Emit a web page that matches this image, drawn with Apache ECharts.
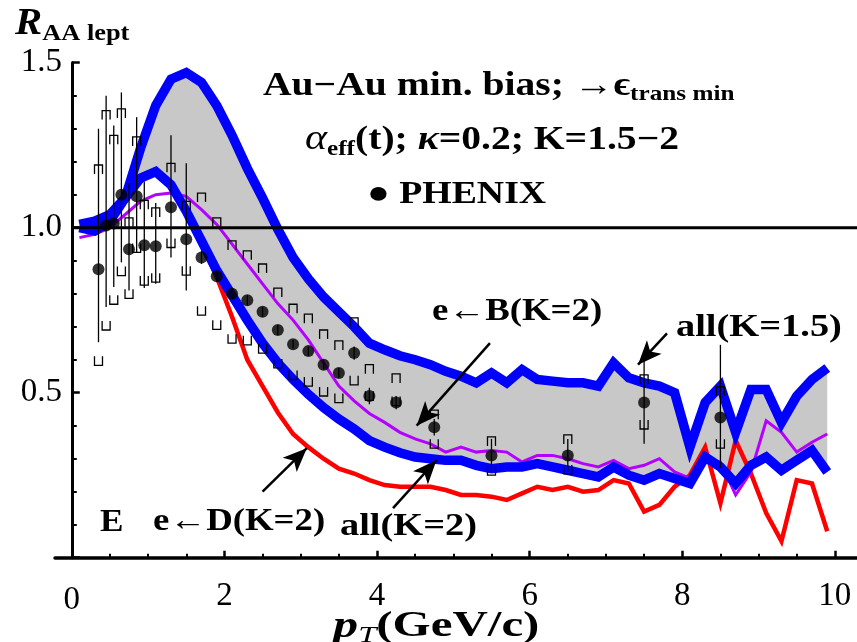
<!DOCTYPE html>
<html>
<head>
<meta charset="utf-8">
<script src="https://cdn.jsdelivr.net/npm/echarts@6/dist/echarts.min.js"></script>
<style>
html, body { margin: 0; padding: 0; background: #ffffff; }
#chart { width: 857px; height: 642px; }
</style>
</head>
<body>
<div id="chart"></div>
<script>
// Transverse-momentum grid of the model curves (GeV/c)
const pT = [0.1, 0.3, 0.5, 0.7, 0.9, 1.1, 1.3, 1.5, 1.7, 1.9,
            2.1, 2.3, 2.5, 2.7, 2.9, 3.1, 3.3, 3.5, 3.7, 3.9,
            4.1, 4.3, 4.5, 4.7, 4.9, 5.1, 5.3, 5.5, 5.7, 5.9,
            6.1, 6.3, 6.5, 6.7, 6.9, 7.1, 7.3, 7.5, 7.7, 7.9,
            8.1, 8.3, 8.5, 8.7, 8.9, 9.1, 9.3, 9.5, 9.7, 9.9];

// all leptons, K = 1.5 (upper edge of the band)
const allK15 = [1.01, 1.02, 1.04, 1.09, 1.24, 1.37, 1.45, 1.47, 1.44, 1.37,
                1.28, 1.18, 1.09, 0.995, 0.91, 0.845, 0.79, 0.745, 0.70, 0.65,
                0.63, 0.612, 0.60, 0.585, 0.565, 0.55, 0.53, 0.56, 0.53, 0.57,
                0.54, 0.535, 0.53, 0.53, 0.52, 0.59, 0.545, 0.53, 0.52, 0.50,
                0.335, 0.47, 0.52, 0.38, 0.51, 0.51, 0.41, 0.49, 0.54, 0.575];

// all leptons, K = 2 (lower edge of the band)
const allK2 = [1.00, 0.99, 1.02, 1.09, 1.15, 1.17, 1.13, 1.05, 0.96, 0.87,
               0.795, 0.72, 0.65, 0.59, 0.54, 0.495, 0.455, 0.42, 0.39, 0.355,
               0.335, 0.318, 0.305, 0.30, 0.295, 0.295, 0.28, 0.27, 0.275, 0.275,
               0.285, 0.275, 0.265, 0.255, 0.245, 0.275, 0.25, 0.235, 0.255, 0.24,
               0.225, 0.305, 0.275, 0.225, 0.28, 0.305, 0.265, 0.295, 0.325, 0.26];

// electrons from B decays, K = 2
const eFromB = [0.97, 0.98, 1.00, 1.04, 1.08, 1.10, 1.105, 1.095, 1.055, 1.01,
                0.95, 0.89, 0.83, 0.77, 0.72, 0.66, 0.59, 0.52, 0.475, 0.437,
                0.41, 0.38, 0.36, 0.345, 0.32, 0.335, 0.32, 0.325, 0.32, 0.29,
                0.31, 0.31, 0.30, 0.285, 0.275, 0.295, 0.27, 0.28, 0.30, 0.26,
                0.24, 0.29, 0.29, 0.19, 0.26, 0.415, 0.38, 0.32, 0.35, 0.375];

// electrons from D decays, K = 2 (runs under the K = 2 total below ~1.8 GeV/c)
const eFromD = [0.995, 0.985, 1.015, 1.085, 1.145, 1.165, 1.125, 1.045, 0.955, 0.85,
                0.73, 0.60, 0.52, 0.44, 0.375, 0.335, 0.30, 0.27, 0.255, 0.235,
                0.22, 0.215, 0.215, 0.215, 0.205, 0.19, 0.19, 0.185, 0.175, 0.195,
                0.215, 0.205, 0.215, 0.20, 0.205, 0.235, 0.225, 0.14, 0.16, 0.215,
                0.25, 0.335, 0.165, 0.355, 0.255, 0.135, 0.05, 0.235, 0.225, 0.08];

// PHENIX non-photonic electrons, Au-Au minimum bias
const phenixPt = [0.35, 0.45, 0.55, 0.65, 0.75, 0.85, 0.95, 1.1, 1.3, 1.5,
                  1.7, 1.9, 2.1, 2.3, 2.5, 2.7, 2.9, 3.1, 3.3, 3.5,
                  3.7, 3.9, 4.25, 4.75, 5.5, 6.5, 7.5, 8.5];
const phenixR = [0.874, 1.007, 1.013, 1.10, 0.935, 1.095, 0.947, 0.944, 1.062, 0.965,
                 0.91, 0.853, 0.80, 0.78, 0.745, 0.69, 0.647, 0.626, 0.585, 0.56,
                 0.62, 0.49, 0.47, 0.395, 0.31, 0.31, 0.47, 0.425];
const statHi = [1.30, 1.40, 1.31, 1.41, 1.135, 1.335, 1.14, 1.075, 1.28, 1.195,
                0.93, 0.87, 0.815, 0.795, 0.76, 0.705, 0.66, 0.64, 0.60, 0.575,
                0.64, 0.515, 0.49, 0.42, 0.36, 0.36, 0.60, 0.645];
const statLo = [0.653, 0.76, 0.82, 0.895, 0.81, 0.925, 0.817, 0.83, 0.91, 0.81,
                0.89, 0.836, 0.785, 0.765, 0.73, 0.675, 0.634, 0.612, 0.57, 0.545,
                0.60, 0.465, 0.45, 0.37, 0.26, 0.26, 0.345, 0.272];
const sysHi = [1.19, 1.355, 1.28, 1.36, 1.03, 1.275, 1.083, 1.06, 1.195, 1.08,
               1.105, 1.03, 0.96, 0.93, 0.89, 0.817, 0.768, 0.738, 0.69, 0.657,
               0.727, 0.585, 0.557, 0.447, 0.366, 0.372, 0.554, 0.518];
const sysLo = [0.583, 0.69, 0.768, 0.855, 0.786, 0.925, 0.826, 0.835, 0.94, 0.856,
               0.735, 0.692, 0.65, 0.645, 0.62, 0.575, 0.54, 0.52, 0.49, 0.47,
               0.524, 0.477, 0.461, 0.332, 0.25, 0.254, 0.39, 0.332];

// Axis ticks
const xMajorTicks = [0, 2, 4, 6, 8, 10];
const xMinorTicks = [0.5, 1, 1.5, 2.5, 3, 3.5, 4.5, 5, 5.5, 6.5, 7, 7.5, 8.5, 9, 9.5];
const refLevel = 1.0;

// Annotation arrows: [from pT, from R, to pT, to R]
const arrows = [
  [5.48, 0.65, 4.52, 0.40],   // e<-B(K=2)
  [7.80, 0.68, 7.42, 0.585],  // all(K=1.5)
  [2.50, 0.20, 3.08, 0.332],  // e<-D(K=2)
  [4.21, 0.15, 4.78, 0.296]   // all(K=2)
];

const SERIF = '"Liberation Serif", "DejaVu Serif", serif';
const measureCtx = document.createElement('canvas').getContext('2d');

// Lay out a run of differently styled text pieces left to right,
// stretched horizontally by sx
function textRun(x, y, sx, parts) {
  const out = [];
  let cx = x;
  for (const [t, font, dy] of parts) {
    measureCtx.font = font;
    out.push({
      type: 'text', x: cx, y: y + (dy || 0), z: 100, scaleX: sx,
      style: { text: t, font: font, fill: '#000', align: 'left', verticalAlign: 'middle' }
    });
    cx += measureCtx.measureText(t).width * sx;
  }
  return out;
}

const B33 = 'bold 33px ' + SERIF;
const B32 = 'bold 32px ' + SERIF;
const B21 = 'bold 21px ' + SERIF;

const graphics = [].concat(
  textRun(15, 24, 1.1, [['R', 'bold italic 37px ' + SERIF, 0], ['AA lept', 'bold 24px ' + SERIF, 10]]),
  textRun(263, 86, 1.2, [['Au\u2212Au min. bias; \u2192\u03F5', B33, 0], ['trans min', B21, 9]]),
  textRun(305, 140, 1.2, [['\u03B1', 'italic 35px ' + SERIF, 0], ['eff', B21, 10], ['(t); ', B33, 0],
                          ['\u03BA', 'bold italic 33px ' + SERIF, 0], ['=0.2; K=1.5\u22122', B33, 0]]),
  textRun(367, 195, 1.18, [['\u25CF PHENIX', B32, 0]]),
  textRun(432, 312, 1.15, [['e\u2190B(K=2)', B32, 0]]),
  textRun(676, 328, 1.2, [['all(K=1.5)', B32, 0]]),
  textRun(153, 522, 1.15, [['e\u2190D(K=2)', B32, 0]]),
  textRun(340, 527, 1.2, [['all(K=2)', B32, 0]]),
  textRun(100, 523, 1.1, [['E', B32, 0]]),
  textRun(333, 627, 1.36, [['p', 'bold italic 37px ' + SERIF, 0], ['T', 'italic 24px ' + SERIF, 9], ['(GeV/c)', 'bold 36px ' + SERIF, 0]])
);

const chart = echarts.init(document.getElementById('chart'), null, { renderer: 'canvas' });

const lineSeries = (name, values, color, width, z) => ({
  name: name,
  type: 'line',
  data: pT.map((x, i) => [x, values[i]]),
  symbol: 'none',
  silent: true,
  z: z,
  lineStyle: { color: color, width: width, join: 'miter', cap: 'butt' }
});

chart.setOption({
  animation: false,
  backgroundColor: '#ffffff',
  grid: { left: 55, right: 0, top: 62.7, bottom: 84.3, containLabel: false },
  xAxis: [
    {
      type: 'value', min: -0.22, max: 10.29,
      axisLine: { onZero: false, lineStyle: { color: '#000', width: 3.5 } },
      axisTick: { inside: true, length: 7, lineStyle: { color: '#000', width: 2.5 }, customValues: xMajorTicks },
      axisLabel: {
        customValues: xMajorTicks, margin: 22, color: '#000',
        fontFamily: SERIF, fontSize: 33,
        formatter: v => (v === 0 ? '{z|0}' : String(v)),
        rich: { z: { fontFamily: SERIF, fontSize: 33, color: '#000', padding: [4, 0, 0, 0] } }
      },
      splitLine: { show: false }
    },
    {
      type: 'value', min: -0.22, max: 10.29, position: 'bottom', offset: 0,
      axisLine: { show: false },
      axisTick: { inside: true, length: 4, lineStyle: { color: '#000', width: 2 }, customValues: xMinorTicks },
      axisLabel: { show: false },
      splitLine: { show: false }
    }
  ],
  yAxis: {
    type: 'value', min: 0, max: 1.5, interval: 0.5,
    axisLine: { show: true, onZero: true, lineStyle: { color: '#000', width: 3 } },
    axisTick: { inside: true, length: 8, lineStyle: { color: '#000', width: 2.5 } },
    minorTick: { show: true, splitNumber: 5, length: 5, lineStyle: { color: '#000', width: 2 } },
    axisLabel: {
      margin: -7, color: '#000', fontFamily: SERIF, fontSize: 33,
      formatter: v => (v === 0 ? '' : v.toFixed(1))
    },
    splitLine: { show: false }
  },
  graphic: graphics,
  series: [
    {
      name: 'band',
      type: 'custom',
      silent: true,
      z: 1,
      data: [[pT[0], allK15[0]]],
      renderItem: (params, api) => {
        const upper = pT.map((x, i) => api.coord([x, allK15[i]]));
        const lower = pT.map((x, i) => api.coord([x, allK2[i]])).reverse();
        return { type: 'polygon', shape: { points: upper.concat(lower) }, style: { fill: '#c8c8c8' } };
      }
    },
    lineSeries('e<-D(K=2)', eFromD, '#ff0000', 4.5, 2),
    lineSeries('e<-B(K=2)', eFromB, '#b400ff', 3, 3),
    lineSeries('all(K=2)', allK2, '#0000ff', 9.5, 4),
    lineSeries('all(K=1.5)', allK15, '#0000ff', 9.5, 4),
    {
      name: 'reference',
      type: 'line',
      data: [[0, refLevel], [10.29, refLevel]],
      symbol: 'none',
      silent: true,
      z: 5,
      lineStyle: { color: '#000', width: 3 }
    },
    {
      name: 'arrows',
      type: 'line',
      data: [],
      silent: true,
      z: 6,
      markLine: {
        silent: true,
        animation: false,
        symbol: ['none', 'arrow'],
        symbolSize: [15, 24],
        label: { show: false },
        lineStyle: { color: '#000', width: 2.5, type: 'solid' },
        emphasis: { disabled: true },
        data: arrows.map(a => [{ coord: [a[0], a[1]] }, { coord: [a[2], a[3]] }])
      }
    },
    {
      name: 'PHENIX errors',
      type: 'custom',
      silent: true,
      z: 7,
      encode: { x: 0, y: [1, 2, 3, 4] },
      data: phenixPt.map((x, i) => [x, statLo[i], statHi[i], sysLo[i], sysHi[i]]),
      renderItem: (params, api) => {
        const x = api.value(0);
        const a = api.coord([x, api.value(1)]);
        const b = api.coord([x, api.value(2)]);
        const lo = api.coord([x, api.value(3)]);
        const hi = api.coord([x, api.value(4)]);
        const w = 4, h = 9;
        const st = { stroke: '#000', lineWidth: 1.3, fill: null };
        return {
          type: 'group',
          children: [
            { type: 'line', shape: { x1: a[0], y1: a[1], x2: b[0], y2: b[1] }, style: st },
            { type: 'polyline', shape: { points: [[hi[0] - w, hi[1] + h], [hi[0] - w, hi[1]], [hi[0] + w, hi[1]], [hi[0] + w, hi[1] + h]] }, style: st },
            { type: 'polyline', shape: { points: [[lo[0] - w, lo[1] - h], [lo[0] - w, lo[1]], [lo[0] + w, lo[1]], [lo[0] + w, lo[1] - h]] }, style: st }
          ]
        };
      }
    },
    {
      name: 'PHENIX',
      type: 'scatter',
      silent: true,
      z: 8,
      symbol: 'circle',
      symbolSize: 12,
      itemStyle: { color: '#000' },
      data: phenixPt.map((x, i) => [x, phenixR[i]])
    }
  ]
});
</script>
</body>
</html>
